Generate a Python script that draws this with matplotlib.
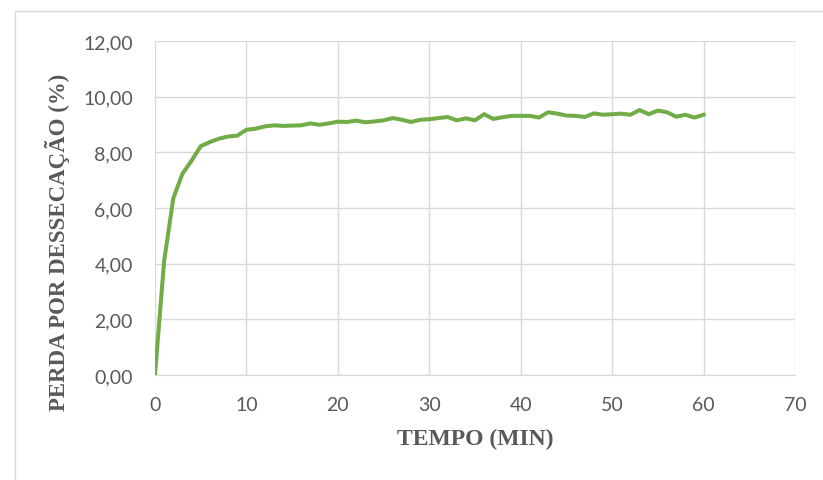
import numpy as np
import matplotlib.pyplot as plt
from matplotlib.patches import Rectangle
from matplotlib.ticker import FuncFormatter

# tempo (min) e perda por dessecação (%)
tempo = list(range(0, 61))
perda = [0.00, 4.10, 6.35, 7.23, 7.70, 8.22, 8.37, 8.49, 8.57, 8.60,
         8.81, 8.85, 8.93, 8.97, 8.95, 8.96, 8.97, 9.04, 8.99, 9.04,
         9.10, 9.09, 9.14, 9.08, 9.11, 9.15, 9.23, 9.17, 9.09, 9.17,
         9.19, 9.23, 9.27, 9.15, 9.22, 9.15, 9.37, 9.20, 9.26, 9.31,
         9.31, 9.31, 9.25, 9.44, 9.39, 9.32, 9.31, 9.27, 9.40, 9.35,
         9.37, 9.39, 9.35, 9.52, 9.37, 9.50, 9.44, 9.28, 9.35, 9.25,
         9.35]

xticks = [0, 10, 20, 30, 40, 50, 60, 70]
yticks = [0, 2, 4, 6, 8, 10, 12]

grey = '#595959'
gridc = '#d9d9d9'

fig = plt.figure(figsize=(8.23, 4.81), dpi=100)
# moldura externa do gráfico
fig.patches.append(Rectangle((15 / 823, -0.1), 1.2, 1.1 - 12 / 481,
                             transform=fig.transFigure, fill=False,
                             edgecolor=gridc, lw=1.0))

ax = fig.add_axes([155 / 823, 1 - 376 / 481, 640 / 823, 334 / 481])
ax.plot(tempo, perda, color='#70ad47', lw=2.9, solid_joinstyle='round')

ax.set_xlim(0, 70)
ax.set_ylim(0, 12)
ax.set_xticks(xticks)
ax.set_yticks(yticks)
ax.yaxis.set_major_formatter(FuncFormatter(lambda v, p: f'{v:.2f}'.replace('.', ',')))
ax.grid(True, color=gridc, lw=1.0)
ax.set_axisbelow(True)
for s in ['top', 'right', 'left']:
    ax.spines[s].set_visible(False)
ax.spines['bottom'].set_color(gridc)
ax.tick_params(length=0, labelsize=14, labelcolor=grey)
ax.tick_params(axis='x', pad=15)
ax.tick_params(axis='y', pad=16)
for lab in ax.get_xticklabels() + ax.get_yticklabels():
    lab.set_family('Lato')

ax.set_xlabel('TEMPO (MIN)', family='Liberation Serif', weight='bold',
              fontsize=17, color=grey, labelpad=11)
fig.text(57 / 823, 1 - 242 / 481, 'PERDA POR DESSECAÇÃO (%)', rotation=90,
         ha='center', va='center', family='Liberation Serif', weight='bold',
         fontsize=16.5, color=grey)

fig.savefig('out.png', dpi=100)
